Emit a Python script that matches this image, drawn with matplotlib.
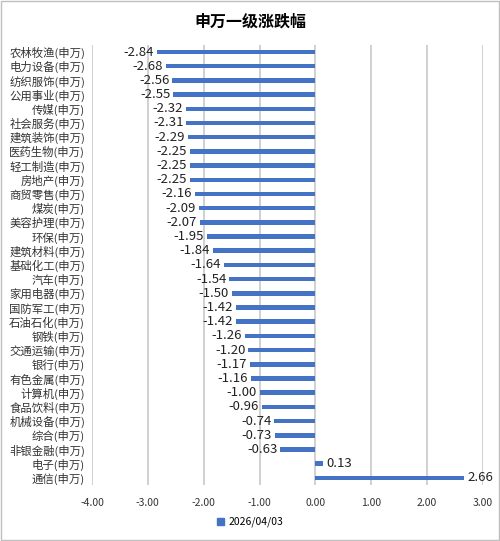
import matplotlib.pyplot as plt
from matplotlib.patches import Patch

plt.rcParams['font.family'] = ['Noto Sans CJK SC', 'DejaVu Sans']

# 申万一级行业涨跌幅
names = ['农林牧渔', '电力设备', '纺织服饰', '公用事业', '传媒', '社会服务', '建筑装饰',
         '医药生物', '轻工制造', '房地产', '商贸零售', '煤炭', '美容护理', '环保',
         '建筑材料', '基础化工', '汽车', '家用电器', '国防军工', '石油石化', '钢铁',
         '交通运输', '银行', '有色金属', '计算机', '食品饮料', '机械设备', '综合',
         '非银金融', '电子', '通信']
values = [-2.84, -2.68, -2.56, -2.55, -2.32, -2.31, -2.29, -2.25, -2.25, -2.25,
          -2.16, -2.09, -2.07, -1.95, -1.84, -1.64, -1.54, -1.50, -1.42, -1.42,
          -1.26, -1.20, -1.17, -1.16, -1.00, -0.96, -0.74, -0.73, -0.63, 0.13, 2.66]
labels = [n + '(申万)' for n in names]
xticks = [-4, -3, -2, -1, 0, 1, 2, 3]
series_name = '2026/04/03'

fig = plt.figure(figsize=(5, 5.41), dpi=100)
ax = fig.add_axes([0.184, 0.1035, 0.782, 0.8135])

pos = list(range(len(values)))
ax.barh(pos, values, height=0.32, color='#4472C4', zorder=3)

for p, v in zip(pos, values):
    if v < 0:
        ax.text(v - 0.05, p, f'{v:.2f}', ha='right', va='center', fontsize=9.5, color='#222222', zorder=4)
    else:
        ax.text(v + 0.07, p, f'{v:.2f}', ha='left', va='center', fontsize=9.5, color='#222222', zorder=4)

ax.set_xlim(-4, 3)
ax.set_ylim(len(values) - 0.5, -0.5)
ax.set_xticks(xticks)
ax.set_xticklabels([f'{t:.2f}' for t in xticks], fontsize=7.5, color='#333333')
ax.set_yticks(pos)
ax.set_yticklabels(labels, fontsize=8.2, color='#333333')
ax.tick_params(length=0, pad=5)
ax.tick_params(axis='x', pad=9)
ax.grid(axis='x', color='#c8c8c8', linewidth=1.2, zorder=0)
for s in ax.spines.values():
    s.set_visible(False)

fig.suptitle('申万一级涨跌幅', y=0.975, fontsize=11.5, fontweight='bold')

fig.legend(handles=[Patch(color='#4472C4', label=series_name)], loc='center',
           bbox_to_anchor=(0.5, 0.035), frameon=False, fontsize=7.5,
           handlelength=0.7, handleheight=0.7, handletextpad=0.4)

fig.patches.append(plt.Rectangle((0.002, 0.002), 0.996, 0.996, transform=fig.transFigure,
                                 fill=False, edgecolor='#bfbfbf', linewidth=1))

fig.savefig('out.png')
